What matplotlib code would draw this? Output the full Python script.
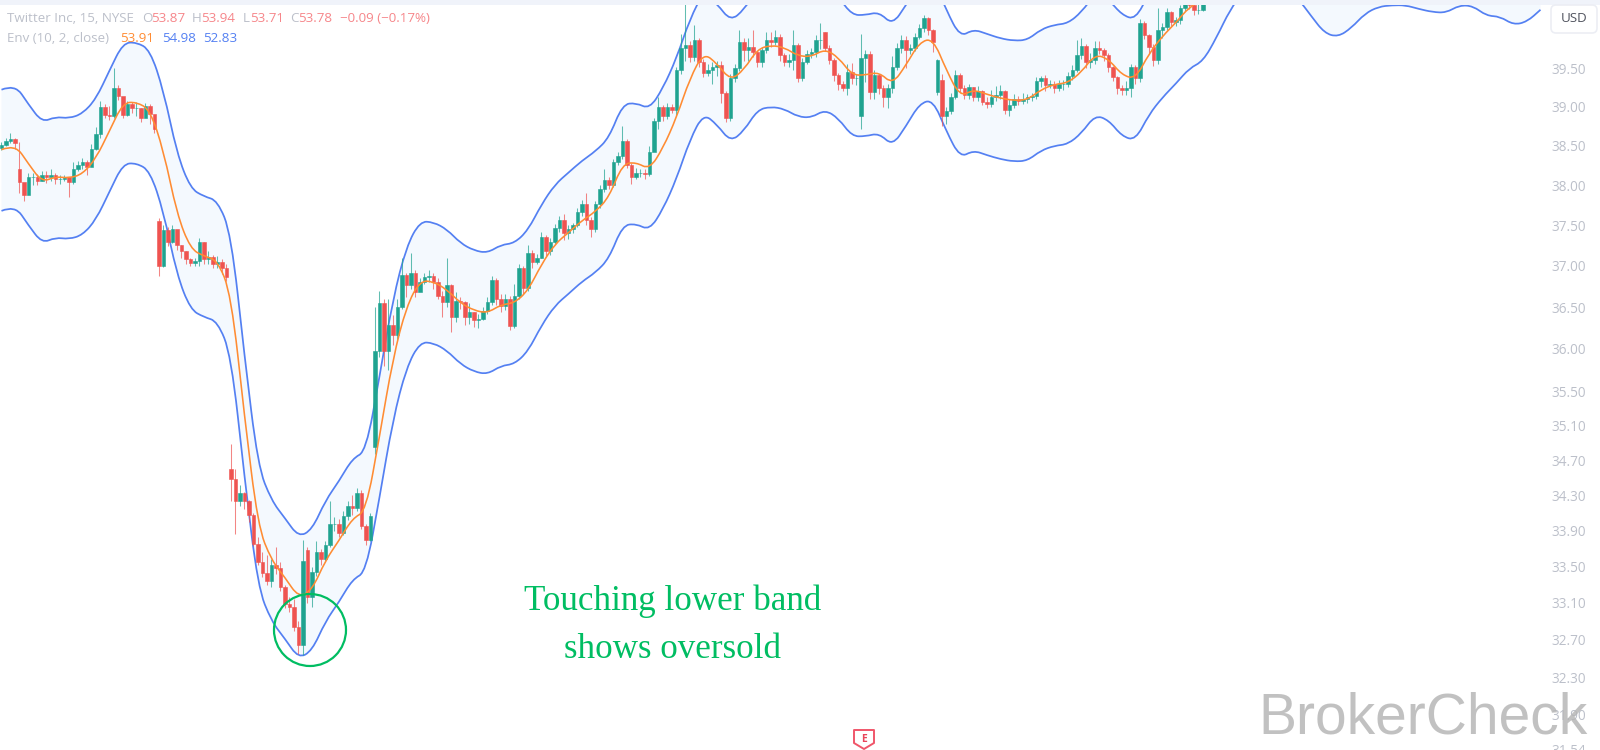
import matplotlib
matplotlib.use("Agg")
import matplotlib.pyplot as plt
from matplotlib.patches import Circle, FancyBboxPatch, PathPatch, Polygon, Rectangle
from matplotlib.path import Path
from matplotlib.transforms import IdentityTransform

# 15 min candles
closes = [
    38.51, 38.56, 38.58, 38.54, 38.04, 37.88, 38.10, 38.10, 38.05, 38.13,
    38.11, 38.13, 38.08, 38.08, 38.10, 38.04, 38.20, 38.26, 38.29, 38.23,
    38.46, 38.65, 38.99, 38.89, 38.88, 39.24, 39.14, 38.89, 39.03, 38.98,
    38.98, 38.86, 39.01, 38.90, 38.72, 37.00, 37.44, 37.30, 37.46, 37.26,
    37.18, 37.08, 37.04, 37.06, 37.30, 37.08, 37.11, 37.02, 37.05, 36.98,
    36.86, 34.48, 34.24, 34.32, 34.24, 34.08, 33.75, 33.55, 33.43, 33.34,
    33.52, 33.49, 33.27, 33.09, 33.06, 32.84, 32.64, 33.56, 33.17, 33.44,
    33.66, 33.58, 33.74, 33.97, 33.97, 33.88, 34.06, 34.18, 34.15, 34.32,
    33.95, 33.80, 34.06, 35.97, 36.55, 35.97, 36.28, 36.17, 36.50, 36.89,
    36.77, 36.92, 36.68, 36.80, 36.86, 36.88, 36.80, 36.63, 36.56, 36.77,
    36.38, 36.57, 36.56, 36.38, 36.44, 36.35, 36.36, 36.45, 36.56, 36.83,
    36.60, 36.51, 36.60, 36.27, 36.63, 36.97, 36.73, 37.16, 37.05, 37.10,
    37.36, 37.18, 37.29, 37.47, 37.57, 37.41, 37.45, 37.50, 37.66, 37.76,
    37.57, 37.45, 37.76, 37.95, 38.07, 38.00, 38.29, 38.37, 38.56, 38.26,
    38.10, 38.15, 38.15, 38.14, 38.42, 38.81, 38.99, 38.88, 38.99, 38.96,
    39.47, 39.76, 39.80, 39.65, 39.87, 39.58, 39.44, 39.47, 39.52, 39.54,
    39.18, 38.86, 39.37, 39.50, 39.84, 39.74, 39.78, 39.71, 39.58, 39.74,
    39.87, 39.84, 39.91, 39.67, 39.58, 39.61, 39.81, 39.37, 39.58, 39.69,
    39.71, 39.87, 39.87, 39.77, 39.61, 39.41, 39.30, 39.24, 39.45, 39.37,
    39.37, 39.63, 39.68, 39.19, 39.41, 39.24, 39.13, 39.24, 39.52, 39.76,
    39.87, 39.74, 39.76, 39.91, 40.03, 40.16, 40.00, 39.84, 39.61, 38.88,
    38.94, 39.13, 39.41, 39.24, 39.15, 39.25, 39.13, 39.20, 39.06, 39.03,
    39.13, 39.15, 39.20, 38.96, 39.02, 39.10, 39.07, 39.10, 39.13, 39.14,
    39.33, 39.37, 39.28, 39.30, 39.24, 39.29, 39.30, 39.40, 39.48, 39.67,
    39.79, 39.58, 39.61, 39.77, 39.74, 39.67, 39.51, 39.38, 39.24, 39.22,
    39.24, 39.52, 39.37, 40.10, 39.93, 39.78, 39.61, 40.00, 40.04, 40.24,
    40.11, 40.13, 40.29, 40.36, 40.33, 40.27, 40.27, 40.42,
]
highs = [
    38.55, 38.60, 38.66, 38.60, 38.55, 38.00, 38.16, 38.16, 38.14, 38.18,
    38.18, 38.21, 38.15, 38.13, 38.13, 38.10, 38.30, 38.31, 38.35, 38.32,
    38.52, 38.74, 39.08, 39.03, 39.01, 39.50, 39.28, 39.05, 39.08, 39.06,
    39.06, 38.98, 39.05, 39.03, 38.82, 37.59, 37.50, 37.48, 37.50, 37.44,
    37.26, 37.18, 37.10, 37.10, 37.34, 37.30, 37.18, 37.14, 37.12, 37.08,
    37.02, 34.89, 34.60, 34.42, 34.34, 34.25, 34.10, 33.83, 33.66, 33.63,
    33.58, 33.72, 33.55, 33.30, 33.16, 33.14, 32.90, 33.80, 33.72, 33.50,
    33.78, 33.70, 33.78, 34.23, 34.05, 34.03, 34.12, 34.24, 34.30, 34.38,
    34.36, 33.98, 34.10, 36.50, 36.70, 36.60, 36.60, 36.40, 36.60, 37.10,
    36.92, 37.16, 36.95, 36.85, 36.92, 36.95, 36.92, 36.85, 36.70, 37.10,
    36.78, 36.68, 36.62, 36.58, 36.55, 36.44, 36.42, 36.50, 36.62, 36.88,
    36.85, 36.66, 36.66, 36.64, 36.78, 37.02, 37.00, 37.26, 37.20, 37.15,
    37.42, 37.38, 37.34, 37.52, 37.62, 37.64, 37.50, 37.53, 37.72, 37.82,
    37.90, 37.60, 37.80, 38.00, 38.20, 38.10, 38.33, 38.42, 38.75, 38.58,
    38.28, 38.22, 38.20, 38.20, 38.50, 38.85, 39.12, 39.02, 39.05, 39.03,
    39.52, 39.95, 40.45, 39.85, 40.07, 39.90, 39.62, 39.55, 39.58, 39.60,
    39.60, 39.20, 39.42, 39.56, 40.00, 39.90, 39.90, 40.00, 39.73, 39.78,
    39.97, 39.98, 40.00, 39.95, 39.70, 39.68, 40.00, 39.83, 39.63, 39.74,
    39.76, 39.93, 40.10, 39.97, 39.80, 39.63, 39.44, 39.33, 39.55, 39.57,
    39.42, 39.95, 39.74, 39.72, 39.48, 39.43, 39.28, 39.30, 39.66, 39.83,
    39.94, 39.92, 39.82, 39.96, 40.08, 40.20, 40.18, 40.02, 39.62, 39.42,
    39.00, 39.18, 39.47, 39.44, 39.28, 39.30, 39.26, 39.27, 39.22, 39.12,
    39.22, 39.27, 39.28, 39.22, 39.10, 39.16, 39.14, 39.18, 39.17, 39.18,
    39.38, 39.40, 39.41, 39.34, 39.33, 39.34, 39.35, 39.45, 39.54, 39.87,
    39.90, 39.82, 39.70, 39.85, 39.85, 39.76, 39.70, 39.53, 39.40, 39.28,
    39.33, 39.55, 39.54, 40.15, 40.12, 39.95, 39.82, 40.29, 40.10, 40.29,
    40.26, 40.18, 40.33, 40.42, 40.40, 40.42, 40.34, 40.48,
]
lows = [
    38.44, 38.50, 38.54, 38.46, 37.90, 37.80, 37.92, 38.00, 38.00, 38.05,
    38.03, 38.05, 38.02, 38.02, 38.05, 37.85, 38.02, 38.18, 38.20, 38.13,
    38.34, 38.45, 38.60, 38.85, 38.83, 38.86, 39.09, 38.85, 38.88, 38.92,
    38.88, 38.80, 38.87, 38.78, 38.66, 36.88, 36.99, 37.25, 37.28, 37.20,
    37.10, 37.02, 37.00, 37.00, 37.00, 37.02, 37.02, 36.98, 36.98, 36.90,
    36.82, 34.23, 33.86, 34.18, 34.14, 34.00, 33.73, 33.52, 33.38, 33.30,
    33.28, 33.42, 33.23, 33.05, 33.00, 32.80, 32.55, 32.54, 33.10, 33.06,
    33.40, 33.52, 33.55, 33.72, 33.90, 33.83, 33.85, 34.02, 34.08, 34.12,
    33.92, 33.74, 33.78, 34.77, 35.90, 35.80, 35.75, 36.05, 36.10, 36.48,
    36.62, 36.72, 36.62, 36.70, 36.78, 36.80, 36.72, 36.60, 36.38, 36.50,
    36.20, 36.32, 36.48, 36.28, 36.30, 36.26, 36.25, 36.34, 36.42, 36.52,
    36.52, 36.44, 36.46, 36.22, 36.25, 36.60, 36.66, 36.70, 36.98, 37.02,
    37.10, 37.12, 37.14, 37.27, 37.42, 37.32, 37.33, 37.40, 37.48, 37.62,
    37.50, 37.35, 37.42, 37.72, 37.92, 37.95, 37.98, 38.26, 38.33, 38.22,
    38.02, 38.08, 38.10, 38.08, 38.12, 38.48, 38.72, 38.82, 38.84, 38.92,
    38.88, 39.42, 39.60, 39.58, 39.60, 39.52, 39.38, 39.40, 39.30, 39.40,
    39.05, 38.80, 38.82, 39.32, 39.46, 39.60, 39.60, 39.64, 39.52, 39.52,
    39.70, 39.78, 39.80, 39.60, 39.53, 39.52, 39.47, 39.32, 39.33, 39.55,
    39.63, 39.65, 39.75, 39.72, 39.55, 39.33, 39.22, 39.20, 39.15, 39.30,
    39.28, 38.72, 39.32, 39.10, 39.10, 39.16, 39.00, 38.98, 39.18, 39.48,
    39.70, 39.50, 39.68, 39.72, 39.88, 39.98, 39.94, 39.71, 39.15, 38.75,
    38.78, 38.90, 39.10, 39.18, 39.10, 39.10, 39.08, 39.07, 39.02, 38.98,
    39.00, 39.08, 39.10, 38.90, 38.88, 38.98, 39.02, 39.03, 39.05, 39.07,
    39.10, 39.26, 39.20, 39.24, 39.18, 39.20, 39.22, 39.26, 39.35, 39.45,
    39.62, 39.50, 39.50, 39.55, 39.68, 39.60, 39.45, 39.33, 39.17, 39.15,
    39.15, 39.13, 39.30, 39.32, 39.88, 39.70, 39.53, 39.55, 39.90, 40.00,
    40.05, 40.05, 40.08, 40.25, 40.28, 40.20, 40.22, 40.25,
]
# bars whose open is not the close before them
gap_opens = {0: 38.47, 4: 38.20, 35: 37.55, 51: 34.60, 68: 33.69, 83: 34.85,
             183: 39.97, 191: 38.88, 208: 39.19, 209: 39.35}

# envelope, one reading every third bar
env_step = 3
env_upper = [
    39.22, 39.29, 39.03, 38.80, 38.87, 38.85, 38.91, 39.10, 39.47, 39.83,
    39.84, 39.74, 39.21, 38.40, 37.96, 37.86, 37.81, 37.40, 35.91, 34.63,
    34.24, 34.04, 33.83, 33.91, 34.24, 34.46, 34.72, 34.80, 35.67, 36.60,
    37.24, 37.55, 37.54, 37.45, 37.28, 37.19, 37.16, 37.26, 37.28, 37.44,
    37.76, 38.01, 38.16, 38.31, 38.43, 38.60, 39.03, 39.05, 38.97, 39.24,
    39.63, 40.15, 40.50, 40.35, 40.12, 40.27, 40.55, 40.59, 40.56, 40.46,
    40.45, 40.55, 40.44, 40.20, 40.20, 40.24, 40.07, 40.33, 40.63, 40.69,
    40.26, 39.91, 40.01, 39.95, 39.89, 39.86, 39.87, 40.01, 40.07, 40.09,
    40.24, 40.48, 40.41, 40.20, 40.14, 40.49, 40.72, 40.90, 41.11, 41.21,
    41.53, 41.91, 42.16, 42.26, 42.27, 42.21, 42.08, 41.83, 41.59, 41.54,
    41.66, 41.86, 41.95, 41.98, 41.98, 41.92, 41.88, 41.87, 41.98, 41.96,
    41.83, 41.82, 41.71, 41.75, 41.91,
]
env_basis = [
    38.45, 38.52, 38.27, 38.04, 38.11, 38.09, 38.14, 38.34, 38.69, 39.05,
    39.06, 38.96, 38.44, 37.64, 37.21, 37.12, 37.07, 36.66, 35.20, 33.95,
    33.57, 33.38, 33.16, 33.24, 33.57, 33.79, 34.04, 34.12, 34.97, 35.89,
    36.51, 36.82, 36.81, 36.71, 36.55, 36.46, 36.43, 36.53, 36.55, 36.70,
    37.02, 37.27, 37.41, 37.56, 37.67, 37.85, 38.27, 38.29, 38.20, 38.47,
    38.86, 39.37, 39.70, 39.56, 39.34, 39.48, 39.75, 39.80, 39.77, 39.66,
    39.65, 39.75, 39.64, 39.41, 39.41, 39.45, 39.29, 39.54, 39.84, 39.89,
    39.47, 39.13, 39.22, 39.16, 39.11, 39.08, 39.09, 39.22, 39.29, 39.31,
    39.45, 39.68, 39.62, 39.41, 39.36, 39.69, 39.92, 40.10, 40.31, 40.40,
    40.71,
]
env_lower = [
    37.68, 37.75, 37.50, 37.28, 37.35, 37.33, 37.38, 37.57, 37.92, 38.27,
    38.28, 38.18, 37.67, 36.89, 36.47, 36.38, 36.33, 35.93, 34.50, 33.27,
    32.90, 32.71, 32.50, 32.58, 32.90, 33.11, 33.36, 33.44, 34.27, 35.17,
    35.78, 36.08, 36.07, 35.98, 35.82, 35.73, 35.70, 35.80, 35.82, 35.97,
    36.28, 36.52, 36.66, 36.81, 36.92, 37.09, 37.50, 37.52, 37.44, 37.70,
    38.08, 38.58, 38.91, 38.77, 38.55, 38.69, 38.96, 39.00, 38.97, 38.87,
    38.86, 38.96, 38.85, 38.62, 38.62, 38.66, 38.50, 38.75, 39.04, 39.09,
    38.68, 38.35, 38.44, 38.38, 38.33, 38.30, 38.31, 38.44, 38.50, 38.52,
    38.66, 38.89, 38.83, 38.62, 38.57, 38.90, 39.12, 39.30, 39.50, 39.59,
    39.90, 40.27, 40.51, 40.60, 40.61, 40.56, 40.43, 40.19, 39.96, 39.91,
    40.03, 40.22, 40.31, 40.33, 40.33, 40.28, 40.24, 40.23, 40.33, 40.32,
    40.19, 40.18, 40.07, 40.11, 40.27,
]

price_ticks = [39.50, 39.00, 38.50, 38.00, 37.50, 37.00, 36.50, 36.00, 35.50, 35.10,
               34.70, 34.30, 33.90, 33.50, 33.10, 32.70, 32.30, 31.90, 31.54]

UP = "#1fa390"
DOWN = "#ef5350"
BAND = "#5480f2"
ORANGE = "#ff8c33"
GREY = "#bcc0ca"
GREEN = "#00bd62"


def smooth(x, y):
    # quadratic segments through the midpoints, the readings act as control points
    verts = [(x[0], y[0])]
    codes = [Path.MOVETO]
    for i in range(1, len(x) - 1):
        verts.append((x[i], y[i]))
        verts.append(((x[i] + x[i + 1]) / 2, (y[i] + y[i + 1]) / 2))
        codes += [Path.CURVE3, Path.CURVE3]
    verts.append((x[-1], y[-1]))
    codes.append(Path.LINETO)
    return verts, codes


plt.rcParams["font.family"] = ["Open Sans", "DejaVu Sans"]

fig = plt.figure(figsize=(16, 7.5), dpi=100, facecolor="white")
ax = fig.add_axes([0, 0, 1545 / 1600, 1])
ax.set_yscale("log")
ax.set_xlim(-0.33, 343)
ax.set_ylim(31.53, 40.40)
for s in ax.spines.values():
    s.set_visible(False)
ax.set_xticks([])
ax.yaxis.tick_right()
ax.set_yticks(price_ticks)
ax.set_yticklabels(["%.2f" % p for p in price_ticks])
ax.tick_params(axis="y", which="both", length=0, pad=4.7, labelsize=9.8, labelcolor=GREY)
ax.minorticks_off()

# envelope
env_x = [i * env_step for i in range(len(env_lower))]
v_low, c_low = smooth(env_x, env_lower)
v_up, c_up = smooth(env_x[::-1], env_upper[::-1])
c_back = [Path.LINETO] + c_up[1:]
ax.add_patch(PathPatch(Path(v_low + v_up, c_low + c_back), fc="#f4f9fe", ec="none", lw=0, zorder=1))
ax.add_patch(PathPatch(Path(*smooth(env_x, env_upper)), fc="none", ec=BAND, lw=1.25, zorder=2))
ax.add_patch(PathPatch(Path(v_low, c_low), fc="none", ec=BAND, lw=1.25, zorder=2))

# candles
opens = []
for i in range(len(closes)):
    opens.append(gap_opens.get(i, closes[i - 1]))
for i in range(len(closes)):
    col = UP if closes[i] >= opens[i] else DOWN
    ax.vlines(i, lows[i], highs[i], color=col, lw=0.75, alpha=0.7, zorder=3)
    ax.bar(i, abs(closes[i] - opens[i]), bottom=min(opens[i], closes[i]), width=0.72,
           color=col, lw=0.4, edgecolor=col, zorder=3)

ax.add_patch(PathPatch(Path(*smooth(env_x[:len(env_basis)], env_basis)), fc="none", ec=ORANGE,
                       lw=1.15, zorder=4))

px = IdentityTransform()


def label(x, y, s, **kw):
    # position in image pixels, y measured from the top
    fig.text(x, 750 - y, s, transform=px, va="center", **kw)


# top strip
fig.add_artist(Rectangle((0, 745), 1600, 5, transform=px, color="#f0f3fa", lw=0, zorder=6))

# legend lines
RED_TXT = "#f6868a"
label(7, 18, "Twitter Inc, 15, NYSE", color=GREY, fontsize=9.6)
for x, letter, x2, val in [(142, "O", 151, "53.87"), (192, "H", 201, "53.94"),
                           (243, "L", 250, "53.71"), (290, "C", 298, "53.78")]:
    label(x, 18, letter, color=GREY, fontsize=9.6)
    label(x2, 18, val, color=RED_TXT, fontsize=9.6)
label(340, 18, "\u22120.09 (\u22120.17%)", color=RED_TXT, fontsize=9.6)
label(7, 38, "Env (10, 2, close)", color=GREY, fontsize=9.6)
label(120, 38, "53.91", color=ORANGE, fontsize=9.6)
label(162, 38, "54.98", color=BAND, fontsize=9.6)
label(203, 38, "52.83", color=BAND, fontsize=9.6)

# currency button
fig.add_artist(FancyBboxPatch((1551, 717), 46, 28, boxstyle="round,pad=0,rounding_size=5",
                              transform=px, fc="white", ec="#eceef4", lw=1.2, zorder=6))
fig.text(1574, 731, "USD", transform=px, ha="center", va="center", color="#50535e",
         fontsize=9.6, zorder=7)

# annotation
fig.add_artist(Circle((310, 750 - 630), 36, transform=px, fill=False, ec=GREEN, lw=1.6, zorder=6))
fig.text(673, 750 - 610, "Touching lower band", transform=px, ha="center", va="baseline",
         color=GREEN, fontsize=25.2, family="Liberation Serif", zorder=6)
fig.text(673, 750 - 658, "shows oversold", transform=px, ha="center", va="baseline",
         color=GREEN, fontsize=25.2, family="Liberation Serif", zorder=6)

# earnings mark
fig.add_artist(Polygon([(854, 20), (874, 20), (874, 7), (864, 1), (854, 7)], closed=True,
                       transform=px, fc="white", ec="#f0566a", lw=1.4, joinstyle="round", zorder=6))
fig.text(864, 11, "E", transform=px, ha="center", va="center", color="#e8455a",
         fontsize=7.5, fontweight="bold", zorder=7)

# watermark
fig.text(1258, 750 - 733, "BrokerCheck", transform=px, ha="left", va="baseline", color="#b4b4b4",
         alpha=0.82, fontsize=41, family="Liberation Sans", zorder=8)

fig.savefig("out.png", dpi=100, facecolor="white")
